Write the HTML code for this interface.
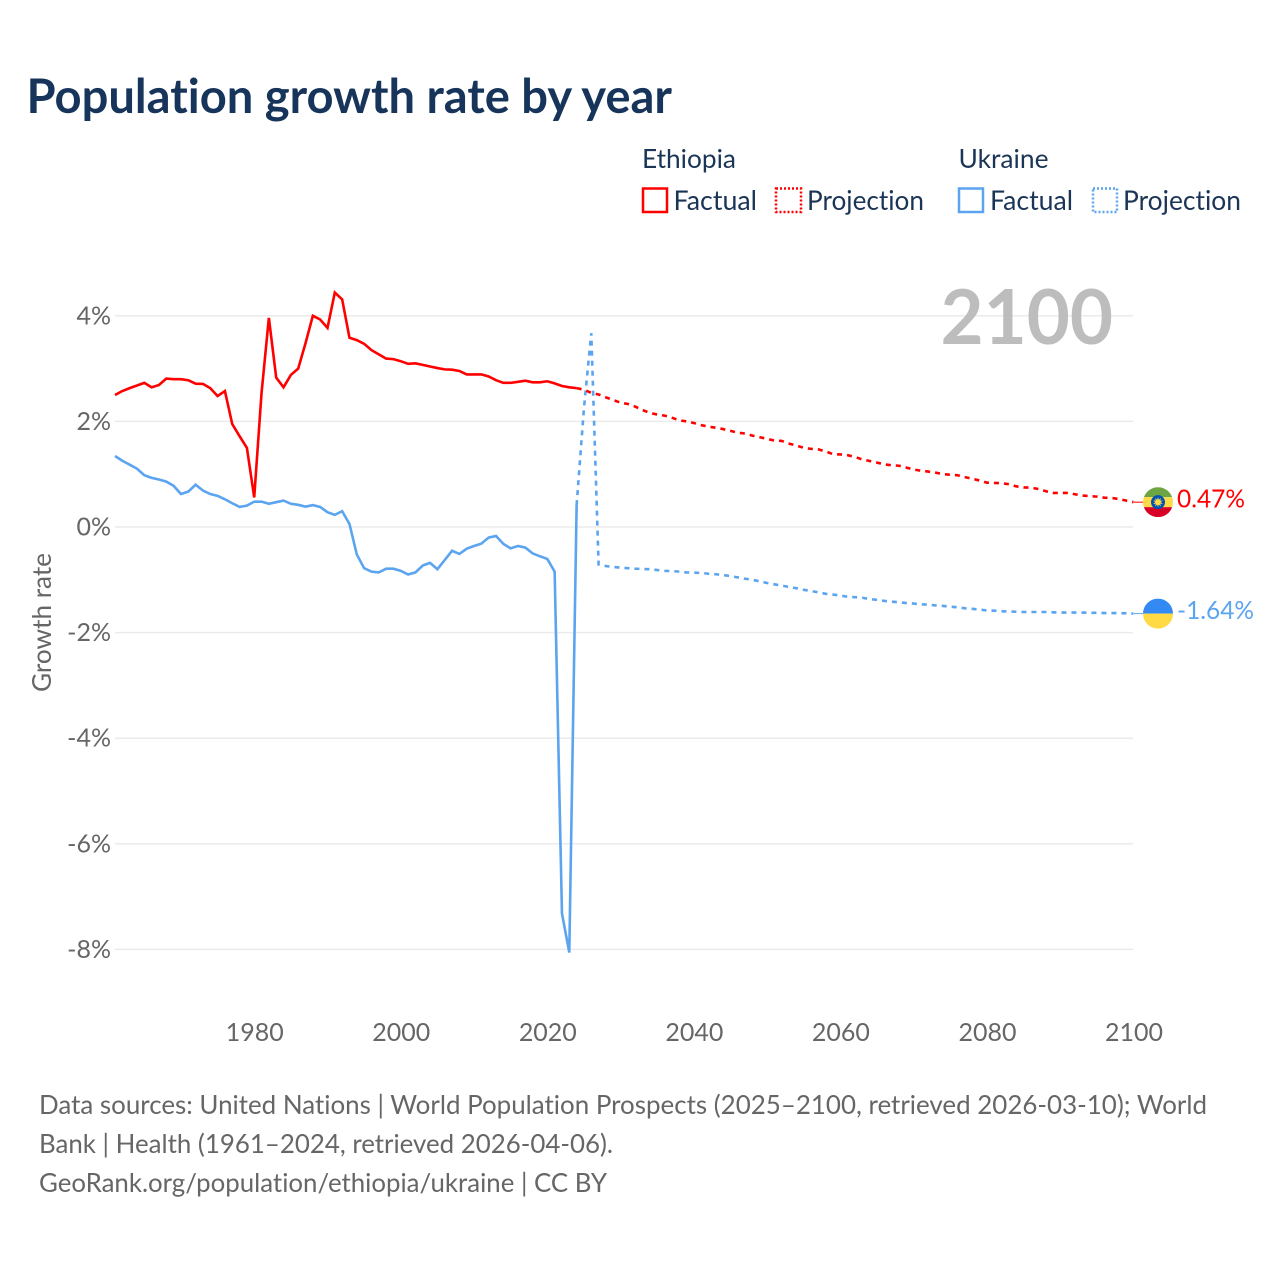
<!DOCTYPE html>
<html lang="en">
<head>
<meta charset="utf-8">
<title>Population growth rate by year</title>
<style>
  html, body { margin: 0; padding: 0; background: #fff; }
  body { width: 1280px; height: 1280px; overflow: hidden; }
  svg { display: block; font-family: "Lato", "Carlito", "Liberation Sans", sans-serif; font-variant-ligatures: none; font-feature-settings: "liga" 0, "clig" 0; }
</style>
</head>
<body>
<svg id="chart" xmlns="http://www.w3.org/2000/svg" width="1280" height="1280" viewBox="0 0 1280 1280">
  <rect x="0" y="0" width="1280" height="1280" fill="#ffffff"/>
  <text x="26.5" y="113" font-size="48" font-weight="700" fill="#17345a" textLength="645.5" lengthAdjust="spacingAndGlyphs">Population growth rate by year</text>

  <g>
    <text x="642" y="168" font-size="26" fill="#1b3556" textLength="94" lengthAdjust="spacingAndGlyphs">Ethiopia</text>
    <text x="958.5" y="168" font-size="26" fill="#1b3556" textLength="90" lengthAdjust="spacingAndGlyphs">Ukraine</text>

    <rect x="643" y="188.5" width="24" height="23.5" fill="none" stroke="#ff0000" stroke-width="2.5"/>
    <text x="673.5" y="210" font-size="27" fill="#1b3556" textLength="83.5" lengthAdjust="spacingAndGlyphs">Factual</text>
    <rect x="776" y="188.5" width="25" height="23.5" fill="none" stroke="#ff0000" stroke-width="2.5" stroke-dasharray="2 2"/>
    <text x="807" y="210" font-size="27" fill="#1b3556" textLength="117" lengthAdjust="spacingAndGlyphs">Projection</text>

    <rect x="959" y="188.5" width="24" height="23.5" fill="none" stroke="#5ba4f0" stroke-width="2.5"/>
    <text x="990" y="210" font-size="27" fill="#1b3556" textLength="83" lengthAdjust="spacingAndGlyphs">Factual</text>
    <rect x="1093" y="188.5" width="24" height="23.5" fill="none" stroke="#5ba4f0" stroke-width="2.5" stroke-dasharray="2 2"/>
    <text x="1123" y="210" font-size="27" fill="#1b3556" textLength="118" lengthAdjust="spacingAndGlyphs">Projection</text>
  </g>

  <g id="grid"></g>
  <text x="940.5" y="344" font-size="76" font-weight="700" fill="#bdbdbd" textLength="172.5" lengthAdjust="spacingAndGlyphs">2100</text>
  <g id="yticks"></g>
  <g id="xticks"></g>
  <text transform="translate(51,622.5) rotate(-90)" text-anchor="middle" font-size="26" fill="#666666" textLength="139" lengthAdjust="spacingAndGlyphs">Growth rate</text>
  <g id="series"></g>
  <g id="endpoints"></g>

  <g font-size="26" fill="#666666">
    <text x="39" y="1114" textLength="1168" lengthAdjust="spacingAndGlyphs">Data sources: United Nations | World Population Prospects (2025–2100, retrieved 2026-03-10); World</text>
    <text x="39" y="1153" textLength="574" lengthAdjust="spacingAndGlyphs">Bank | Health (1961–2024, retrieved 2026-04-06).</text>
    <text x="39" y="1192" textLength="568" lengthAdjust="spacingAndGlyphs">GeoRank.org/population/ethiopia/ukraine | CC BY</text>
  </g>
</svg>

<script>
const yTickValues = [4, 2, 0, -2, -4, -6, -8];
const xTickYears = [1980, 2000, 2020, 2040, 2060, 2080, 2100];
const factualStartYear = 1961;
const projectionStartYear = 2024;

const ethiopiaFactual = [
  2.50, 2.575, 2.63, 2.68, 2.73, 2.645, 2.69, 2.81, 2.80, 2.80,
  2.78, 2.715, 2.71, 2.63, 2.48, 2.575, 1.95, 1.72, 1.50, 0.56,
  2.54, 3.96, 2.83, 2.645, 2.88, 3.00, 3.48, 4.00, 3.93, 3.77,
  4.44, 4.31, 3.585, 3.54, 3.47, 3.35, 3.27, 3.19, 3.18, 3.14,
  3.09, 3.10, 3.07, 3.04, 3.01, 2.985, 2.98, 2.955, 2.89, 2.89,
  2.89, 2.85, 2.78, 2.73, 2.73, 2.75, 2.77, 2.74, 2.74, 2.76,
  2.72, 2.67, 2.645, 2.63
];
const ethiopiaProjection = [
  2.63, 2.60, 2.54, 2.51, 2.455, 2.405, 2.355, 2.33, 2.28, 2.215,
  2.16, 2.13, 2.11, 2.07, 2.02, 2.00, 1.97, 1.93, 1.90, 1.88,
  1.855, 1.82, 1.785, 1.77, 1.73, 1.70, 1.67, 1.635, 1.63, 1.58,
  1.54, 1.50, 1.48, 1.47, 1.43, 1.38, 1.375, 1.36, 1.325, 1.28,
  1.25, 1.22, 1.185, 1.17, 1.16, 1.125, 1.09, 1.065, 1.05, 1.03,
  1.00, 0.99, 0.98, 0.945, 0.915, 0.88, 0.84, 0.835, 0.83, 0.81,
  0.77, 0.75, 0.745, 0.72, 0.68, 0.645, 0.645, 0.645, 0.62, 0.595,
  0.585, 0.575, 0.555, 0.55, 0.53, 0.50, 0.47
];
const ukraineFactual = [
  1.345, 1.255, 1.18, 1.105, 0.98, 0.93, 0.90, 0.86, 0.78, 0.625,
  0.67, 0.80, 0.69, 0.625, 0.59, 0.525, 0.45, 0.38, 0.405, 0.48,
  0.48, 0.44, 0.47, 0.50, 0.44, 0.42, 0.385, 0.415, 0.38, 0.28,
  0.23, 0.30, 0.057, -0.52, -0.78, -0.845, -0.86, -0.79, -0.79, -0.83,
  -0.90, -0.86, -0.73, -0.68, -0.80, -0.625, -0.45, -0.51, -0.41, -0.36,
  -0.315, -0.20, -0.17, -0.32, -0.405, -0.36, -0.39, -0.50, -0.555, -0.605,
  -0.845, -7.32, -8.06, 0.415
];
const ukraineProjection = [
  0.415, 2.25, 3.67, -0.71, -0.74, -0.757, -0.77, -0.78, -0.79, -0.795,
  -0.80, -0.815, -0.83, -0.835, -0.845, -0.86, -0.865, -0.87, -0.885, -0.895,
  -0.91, -0.93, -0.955, -0.98, -1.00, -1.03, -1.06, -1.085, -1.11, -1.135,
  -1.16, -1.19, -1.21, -1.24, -1.265, -1.28, -1.30, -1.32, -1.33, -1.34,
  -1.365, -1.38, -1.40, -1.415, -1.425, -1.44, -1.45, -1.465, -1.47, -1.485,
  -1.495, -1.51, -1.52, -1.54, -1.55, -1.565, -1.58, -1.585, -1.595, -1.60,
  -1.605, -1.61, -1.61, -1.61, -1.61, -1.615, -1.62, -1.62, -1.62, -1.62,
  -1.625, -1.625, -1.63, -1.63, -1.63, -1.635, -1.64
];

const SVG_NS = 'http://www.w3.org/2000/svg';
const xScale = function (year) { return 115 + (year - 1961) * (1133.5 - 115) / (2100 - 1961); };
const yScale = function (value) { return 527 - value * 52.8; };

function make(tag, parent) {
  const el = document.createElementNS(SVG_NS, tag);
  parent.appendChild(el);
  return el;
}

function linePoints(values, startYear) {
  return values.map(function (v, i) {
    return xScale(startYear + i).toFixed(2) + ',' + yScale(v).toFixed(2);
  }).join(' ');
}

const gridGroup = document.getElementById('grid');
const yTickGroup = document.getElementById('yticks');
yTickValues.forEach(function (v) {
  const line = make('line', gridGroup);
  
  
  line.setAttribute('x1', 115);
  line.setAttribute('x2', 1133);
  line.setAttribute('y1', yScale(v));
  line.setAttribute('y2', yScale(v));
  line.setAttribute('stroke', '#ebebeb');
  line.setAttribute('stroke-width', '1.5');
  const label = make('text', yTickGroup);
  
  
  label.setAttribute('x', 111);
  label.setAttribute('y', yScale(v) + 8.5);
  label.setAttribute('text-anchor', 'end');
  label.setAttribute('font-size', '25');
  label.setAttribute('fill', '#666666');
  label.textContent = v + '%';
});

const xTickGroup = document.getElementById('xticks');
xTickYears.forEach(function (year) {
  const label = make('text', xTickGroup);
  
  
  label.setAttribute('x', xScale(year) + 0.5);
  label.setAttribute('y', 1041);
  label.setAttribute('text-anchor', 'middle');
  label.setAttribute('font-size', '25');
  label.setAttribute('fill', '#666666');
  label.setAttribute('textLength', '58');
  label.setAttribute('lengthAdjust', 'spacingAndGlyphs');
  label.textContent = year;
});

const seriesGroup = document.getElementById('series');
function drawLine(values, startYear, color, dashed, name) {
  const line = make('polyline', seriesGroup);
  
  
  line.setAttribute('points', linePoints(values, startYear));
  line.setAttribute('fill', 'none');
  line.setAttribute('stroke', color);
  line.setAttribute('stroke-width', '2.6');
  line.setAttribute('stroke-linejoin', 'miter');
  if (dashed) line.setAttribute('stroke-dasharray', '5 5');
}
drawLine(ukraineFactual, factualStartYear, '#5ba4f0', false, 'ukraine-factual-line');
drawLine(ukraineProjection, projectionStartYear, '#5ba4f0', true, 'ukraine-projection-line');
drawLine(ethiopiaFactual, factualStartYear, '#ff0000', false, 'ethiopia-factual-line');
drawLine(ethiopiaProjection, projectionStartYear, '#ff0000', true, 'ethiopia-projection-line');

const endGroup = document.getElementById('endpoints');
function drawEnd(values, color, name) {
  const last = values[values.length - 1];
  const cy = yScale(last);
  const connector = make('line', endGroup);
  
  
  connector.setAttribute('x1', 1134);
  connector.setAttribute('x2', 1143);
  connector.setAttribute('y1', cy);
  connector.setAttribute('y2', cy);
  connector.setAttribute('stroke', color);
  connector.setAttribute('stroke-width', '1');
  const label = make('text', endGroup);
  
  
  label.setAttribute('x', 1177);
  label.setAttribute('y', cy + 5.5);
  label.setAttribute('font-size', '25');
  label.setAttribute('fill', color);
  label.setAttribute('textLength', last < 0 ? '77' : '68');
  label.setAttribute('lengthAdjust', 'spacingAndGlyphs');
  label.textContent = last.toFixed(2) + '%';
  return cy;
}

function clipped(parent, cy, top, h, color, name) {
  const r = make('rect', parent);
  
  
  r.setAttribute('x', 1143);
  r.setAttribute('y', cy + top);
  r.setAttribute('width', 30);
  r.setAttribute('height', h);
  r.setAttribute('fill', color);
}

const etY = drawEnd(ethiopiaProjection, '#ff0000', 'ethiopia');
const uaY = drawEnd(ukraineProjection, '#5ba4f0', 'ukraine');

const defs = make('defs', endGroup);
function flagClip(id, cy) {
  const cp = make('clipPath', defs);
  cp.setAttribute('id', id);
  const c = make('circle', cp);
  c.setAttribute('cx', 1158);
  c.setAttribute('cy', cy);
  c.setAttribute('r', 15);
}
flagClip('clip-et', etY);
flagClip('clip-ua', uaY);

const etFlag = make('g', endGroup);


etFlag.setAttribute('clip-path', 'url(#clip-et)');
clipped(etFlag, etY, -15, 10, '#6da544', 'flag-green-band');
clipped(etFlag, etY, -5, 10, '#ffda44', 'flag-yellow-band');
clipped(etFlag, etY, 5, 10, '#d80027', 'flag-red-band');
const emblem = make('circle', etFlag);


emblem.setAttribute('cx', 1158);
emblem.setAttribute('cy', etY);
emblem.setAttribute('r', 7);
emblem.setAttribute('fill', '#0052b4');
const sunPoints = [];
for (let i = 0; i < 20; i++) {
  const radius = i % 2 === 0 ? 5.2 : 2.6;
  const angle = -Math.PI / 2 + i * Math.PI / 10;
  sunPoints.push((1158 + radius * Math.cos(angle)).toFixed(2) + ',' + (etY + radius * Math.sin(angle)).toFixed(2));
}
const sun = make('polygon', etFlag);


sun.setAttribute('points', sunPoints.join(' '));
sun.setAttribute('fill', '#ffda44');

const uaFlag = make('g', endGroup);


uaFlag.setAttribute('clip-path', 'url(#clip-ua)');
clipped(uaFlag, uaY, -15, 15, '#338af3', 'flag-blue-band');
clipped(uaFlag, uaY, 0, 15, '#ffda44', 'flag-yellow-band');
</script>
</body>
</html>
